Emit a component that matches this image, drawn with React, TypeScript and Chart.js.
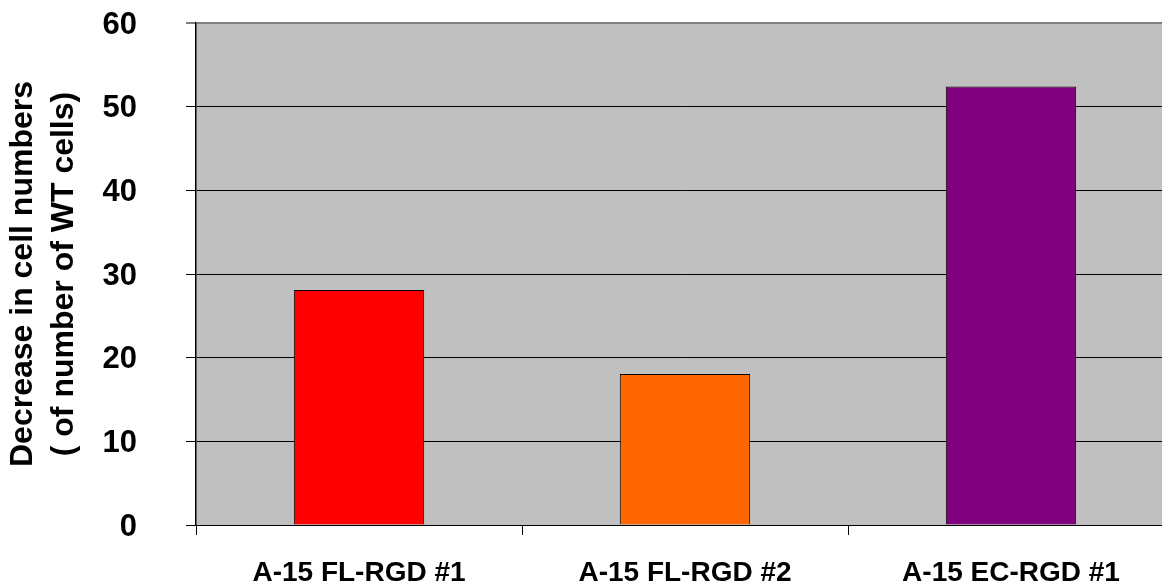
import { useEffect, useRef } from "react";
import { Chart, registerables } from "chart.js";

Chart.register(...registerables);

// Chart data
const categories = ["A-15 FL-RGD #1", "A-15 FL-RGD #2", "A-15 EC-RGD #1"];
const decreaseValues = [28.1, 18.05, 52.4];
const barColors = ["#FF0000", "#FF6600", "#800080"];
const yTitleLines = ["Decrease in cell numbers", "( of number of WT cells)"];
const yMin = 0;
const yMax = 60;
const yStep = 10;

const FONT_FAMILY = "'Liberation Sans', Arial, Helvetica, sans-serif";
const CANVAS_W = 1174;
const CANVAS_H = 586;

// Fills the plot area with the grey backdrop before anything else is drawn.
const plotBackground = {
  id: "plotBackground",
  beforeDraw(chart: any) {
    const { ctx, chartArea } = chart;
    if (!chartArea) return;
    ctx.save();
    ctx.fillStyle = "#C0C0C0";
    ctx.fillRect(
      chartArea.left,
      chartArea.top,
      chartArea.right - chartArea.left,
      chartArea.bottom - chartArea.top
    );
    ctx.restore();
  },
};

export default function App() {
  const canvasRef = useRef<HTMLCanvasElement | null>(null);

  useEffect(() => {
    if (!canvasRef.current) return;
    const chart = new Chart(canvasRef.current, {
      type: "bar",
      data: {
        labels: categories,
        datasets: [
          {
            data: decreaseValues,
            backgroundColor: barColors,
            borderColor: "#000000",
            borderWidth: 1,
            barPercentage: 0.4,
            categoryPercentage: 1,
          },
        ],
      },
      plugins: [plotBackground],
      options: {
        animation: false,
        responsive: false,
        devicePixelRatio: 1,
        layout: { padding: { top: 23, left: 0, right: 0, bottom: 0 } },
        plugins: {
          legend: { display: false },
          tooltip: { enabled: false },
        },
        scales: {
          x: {
            offset: true,
            grid: {
              offset: true,
              drawOnChartArea: false,
              drawTicks: true,
              tickLength: 10,
              color: "#000000",
              tickColor: "#000000",
              lineWidth: 1,
            },
            border: { display: true, color: "#000000", width: 1 },
            ticks: {
              color: "#000000",
              padding: 21,
              maxRotation: 0,
              autoSkip: false,
              font: { family: FONT_FAMILY, size: 28, weight: "bold" },
            },
            afterFit(scale: any) {
              scale.height = 61;
              scale.paddingLeft = 0;
              scale.paddingRight = 0;
            },
          },
          y: {
            min: yMin,
            max: yMax,
            grid: {
              drawTicks: true,
              tickLength: 10,
              color: (ctx: any) =>
                ctx.tick && ctx.tick.value === yMax ? "#808080" : "#000000",
              lineWidth: (ctx: any) =>
                ctx.tick && ctx.tick.value === yMax ? 2 : 1,
              tickColor: "#000000",
              tickWidth: 1,
            },
            border: { display: true, color: "#000000", width: 1.5 },
            ticks: {
              stepSize: yStep,
              color: "#000000",
              padding: 49,
              labelOffset: 2,
              font: { family: FONT_FAMILY, size: 31, weight: "bold" },
            },
            title: {
              display: true,
              text: yTitleLines,
              color: "#000000",
              padding: { top: 3, bottom: 0 },
              font: {
                family: FONT_FAMILY,
                size: 32,
                weight: "bold",
                lineHeight: 1.28,
              },
            },
            afterFit(scale: any) {
              scale.width = 196;
              // the label spacing is only horizontal here; keep the plot edges fixed
              scale.paddingTop = 0;
              scale.paddingBottom = 0;
            },
          },
        },
      },
    } as any);
    return () => chart.destroy();
  }, []);

  return (
    <div
      style={{
        position: "fixed",
        left: 0,
        top: 0,
        width: "100vw",
        height: "100vh",
        overflow: "hidden",
        background: "#ffffff",
      }}
    >
      <canvas
        ref={canvasRef}
        width={CANVAS_W}
        height={CANVAS_H}
        style={{ display: "block", width: CANVAS_W, height: CANVAS_H }}
      />
    </div>
  );
}
